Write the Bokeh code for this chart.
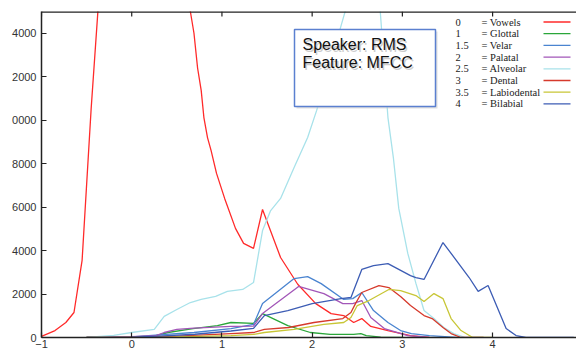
from bokeh.plotting import figure
from bokeh.models import (FixedTicker, BoxAnnotation, Label, ColumnDataSource, Range1d, Span)
from bokeh.core.properties import value
from bokeh.embed import file_html
from bokeh.resources import INLINE

# ---------------- data ----------------
codes = ["0", "1", "1.5", "2", "2.5", "3", "3.5", "4"]
names = ["Vowels", "Glottal", "Velar", "Palatal", "Alveolar", "Dental", "Labiodental", "Bilabial"]

vowels_x = [-1.0, -0.85, -0.73, -0.64, -0.55, -0.45, -0.35, -0.2, 0.0, 0.2, 0.4, 0.55, 0.65, 0.69, 0.73,
            0.77, 0.80, 0.84, 0.88, 0.94, 1.03, 1.15, 1.24, 1.35, 1.45, 1.65, 1.84, 2.04, 2.21, 2.35,
            2.46, 2.55, 2.65, 2.84, 3.09, 3.3]
vowels_y = [50, 320, 690, 1150, 3550, 10500, 16500, 22000, 25000, 24000, 20000, 17000, 15000, 14000, 12400,
            11370, 10120, 9200, 8600, 7550, 6400, 5020, 4330, 4100, 5890, 3680, 2450, 1560, 1100, 1010,
            690, 870, 510, 320, 90, 0]

glottal_x = [-0.5, 0.0, 0.27, 0.4, 0.68, 0.95, 1.1, 1.35, 1.45, 1.73, 1.98, 2.2, 2.46, 2.54, 2.6, 2.76, 3.0]
glottal_y = [0, 20, 90, 230, 410, 550, 690, 650, 1100, 550, 230, 140, 140, 180, 90, 20, 0]

velar_x = [-0.5, 0.0, 0.3, 0.69, 1.1, 1.35, 1.45, 1.8, 1.95, 2.1, 2.35, 2.45, 2.55, 2.68, 2.84, 2.98, 3.1, 3.3, 3.6]
velar_y = [0, 30, 120, 230, 410, 600, 1560, 2710, 2800, 2480, 1750, 1790, 2070, 1240, 690, 320, 180, 90, 0]

palatal_x = [-0.5, 0.0, 0.27, 0.36, 0.5, 0.69, 1.1, 1.35, 1.45, 1.85, 2.13, 2.34, 2.45, 2.55, 2.65, 2.8, 3.06, 3.3]
palatal_y = [0, 40, 90, 230, 370, 430, 510, 520, 1100, 2350, 2020, 1560, 1560, 1700, 920, 410, 90, 0]

alveolar_x = [-0.5, -0.2, 0.0, 0.25, 0.36, 0.5, 0.65, 0.77, 0.93, 1.06, 1.23, 1.35, 1.45, 1.54, 1.65, 1.8,
              1.95, 2.05, 2.2, 2.4, 2.55, 2.72, 2.84, 2.9, 2.96, 3.06, 3.15, 3.24, 3.35, 3.46, 3.57, 3.7, 3.9]
alveolar_y = [0, 100, 230, 370, 970, 1290, 1610, 1750, 1890, 2120, 2210, 2530, 4920, 5840, 6400, 7820,
              9200, 10450, 12600, 15500, 18500, 17000, 10120, 8280, 5940, 3870, 2490, 1240, 870, 460, 180, 0, 0]

dental_x = [-0.5, 0.0, 0.5, 1.1, 1.35, 1.47, 1.74, 2.02, 2.34, 2.43, 2.48, 2.55, 2.74, 2.85, 2.98, 3.09,
            3.24, 3.33, 3.45, 3.54, 3.65, 3.9]
dental_y = [0, 10, 60, 180, 230, 370, 460, 690, 870, 1150, 1560, 2070, 2390, 2300, 1890, 1470,
            1010, 870, 460, 180, 0, 0]

labio_x = [-0.5, 0.0, 0.5, 1.1, 1.35, 1.47, 1.8, 2.13, 2.35, 2.43, 2.5, 2.63, 2.85, 2.98, 3.15, 3.24,
           3.35, 3.45, 3.54, 3.65, 3.78, 4.0]
labio_y = [0, 5, 30, 90, 140, 230, 370, 600, 690, 920, 1470, 1700, 2210, 2160, 1930, 1660,
           2020, 1790, 870, 320, 0, 0]

bilabial_x = [-0.5, 0.0, 0.3, 0.7, 1.1, 1.35, 1.47, 1.73, 2.0, 2.32, 2.43, 2.55, 2.68, 2.84, 3.09, 3.15,
              3.24, 3.45, 3.74, 3.84, 3.95, 4.15, 4.26, 4.37, 4.9]
bilabial_y = [0, 20, 60, 150, 300, 420, 1010, 1240, 1560, 1790, 1840, 3130, 3310, 3400, 2850, 2760,
              2670, 4370, 2760, 2120, 2390, 410, 90, 0, 0]

x_ticks = [-1, 0, 1, 2, 3, 4]
y_ticks = [0, 2000, 4000, 6000, 8000, 10000, 12000, 14000]
y_tick_labels = ["0", "2000", "4000", "6000", "8000", "0000", "2000", "4000"]

series_x = [vowels_x, glottal_x, velar_x, palatal_x, alveolar_x, dental_x, labio_x, bilabial_x]
series_y = [vowels_y, glottal_y, velar_y, palatal_y, alveolar_y, dental_y, labio_y, bilabial_y]

# ---------------- styles ----------------
colors = ["#ff2a2a", "#2aa63a", "#4a84d0", "#a256b8", "#a8e2ea", "#d63a2c", "#c8c636", "#3c5cb4"]

X0, X1 = -1.0, 4.93
Y0, Y1 = 0, 15000
W, H = 576, 352
BL, BT, BB, BR = 41, 11, 15, 0
FW, FH = W - BL - BR, H - BT - BB
FL, FT = BL, BT  # frame left/top in picture pixels


def dx(px):
    return X0 + (px - FL) * (X1 - X0) / FW


def dy(py):
    return Y1 - (py - FT) * (Y1 - Y0) / FH


p = figure(width=W, height=H, output_backend="svg", toolbar_location=None,
           x_range=Range1d(X0, X1), y_range=Range1d(Y0, Y1),
           min_border_left=BL, min_border_top=BT, min_border_bottom=BB, min_border_right=BR)
p.xgrid.visible = False
p.ygrid.visible = False
p.outline_line_color = None
p.background_fill_color = "white"
p.border_fill_color = "white"

for ax in (p.xaxis[0], p.yaxis[0]):
    ax.axis_line_color = "#222222"
    ax.axis_line_width = 1.5
    ax.major_tick_in = 5
    ax.major_tick_out = 0
    ax.major_tick_line_color = "#222222"
    ax.major_tick_line_width = 1.2
    ax.minor_tick_line_color = None
    ax.major_label_text_font = "Liberation Sans"
    ax.major_label_text_font_size = "11px"
    ax.major_label_text_color = "#333333"

p.xaxis[0].ticker = FixedTicker(ticks=x_ticks)
p.xaxis[0].major_label_standoff = 2
p.yaxis[0].ticker = FixedTicker(ticks=y_ticks)
p.yaxis[0].major_label_overrides = {t: l for t, l in zip(y_ticks, y_tick_labels)}
p.yaxis[0].major_label_standoff = 5

# top border of the frame with mirrored inward ticks (gnuplot style)
p.add_layout(Span(location=Y1, dimension="width", line_color="#222222", line_width=2.5))
tick_len = 5 * (Y1 - Y0) / FH
p.segment(x0=x_ticks, x1=x_ticks, y0=[Y1] * len(x_ticks), y1=[Y1 - tick_len] * len(x_ticks),
          line_color="#222222", line_width=1.2)

for xs, ys, c in zip(series_x, series_y, colors):
    p.line(xs, ys, line_color=c, line_width=1.3)

# ---------------- legend (gnuplot style: key, "= name", sample on right) ----------------
row_px = [21.5 + 11.7 * i for i in range(len(codes))]
leg = ColumnDataSource(dict(
    code=codes,
    name=["= " + n for n in names],
    xc=[dx(455)] * len(codes),
    xn=[dx(481)] * len(codes),
    x0=[dx(543)] * len(codes),
    x1=[dx(570)] * len(codes),
    y=[dy(r) for r in row_px],
    color=colors,
))
p.text(x="xc", y="y", text="code", source=leg, text_font=value("Liberation Serif"),
       text_font_size="10.5px", text_baseline="middle", text_color="#222222")
p.text(x="xn", y="y", text="name", source=leg, text_font=value("Liberation Serif"),
       text_font_size="10.5px", text_baseline="middle", text_color="#222222")
p.segment(x0="x0", x1="x1", y0="y", y1="y", source=leg, line_color="color", line_width=1.3)

# ---------------- text box ----------------
p.add_layout(BoxAnnotation(left=dx(296), right=dx(437), top=dy(31), bottom=dy(108),
                           fill_color="#cccccc", fill_alpha=0.6, line_color=None))
p.add_layout(BoxAnnotation(left=dx(294), right=dx(435), top=dy(29), bottom=dy(106),
                           fill_color="white", fill_alpha=1.0, line_color="#5b80d0",
                           line_alpha=1.0, line_width=1.5))
for txt, py in (("Speaker: RMS", 44), ("Feature: MFCC", 62)):
    p.add_layout(Label(x=dx(303.5), y=dy(py + 1.5), text=txt, text_font="Liberation Sans",
                       text_font_size="16px", text_color="#aaaaaa", text_alpha=0.6,
                       text_baseline="middle"))
    p.add_layout(Label(x=dx(302), y=dy(py), text=txt, text_font="Liberation Sans",
                       text_font_size="16px", text_color="#111111", text_baseline="middle"))

open("out.html", "w").write(file_html(p, INLINE))
